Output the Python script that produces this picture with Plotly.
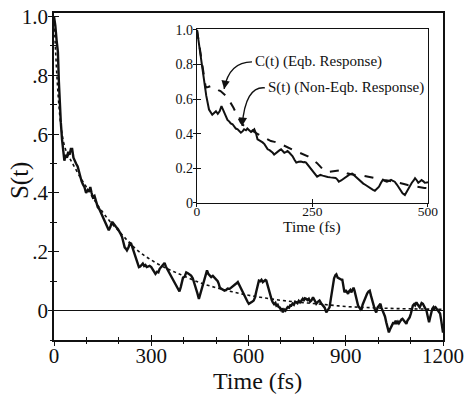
import plotly.graph_objects as go

# ---------------- data ----------------
main_t = [0,4,8,12,15,18,21,25,28,32,36,40,44,48,52,56,60,63,68,73,77,81,85,89,94,99,104,108,112,116,120,125,130,135,140,146,151,156,160,165,169,174,178,181,186,191,197,202,206,210,214,218,222,225,230,234,238,243,248,253,258,262,266,270,274,278,282,286,290,295,300,305,309,313,318,322,326,330,334,338,341,345,350,356,361,366,372,376,380,384,387,391,395,398,403,408,413,418,423,428,434,438,442,447,451,455,459,463,467,472,476,480,485,490,495,500,505,508,511,515,520,526,531,536,542,547,552,557,562,567,572,577,583,588,593,597,601,606,611,616,620,624,628,632,636,640,644,648,652,655,659,662,665,668,672,675,679,683,686,690,693,696,700,703,706,710,714,717,721,725,729,732,736,740,744,747,751,755,759,763,767,770,774,778,782,786,790,794,799,804,809,814,819,824,830,835,840,845,850,854,857,860,864,868,871,875,879,883,887,889,893,896,900,904,907,910,914,917,921,924,927,931,935,938,942,945,948,952,957,961,966,970,974,978,981,984,988,991,994,998,1002,1007,1010,1014,1017,1021,1025,1029,1033,1036,1040,1044,1047,1050,1054,1057,1061,1064,1068,1072,1075,1079,1083,1087,1090,1094,1097,1101,1104,1107,1111,1114,1118,1121,1125,1128,1131,1134,1138,1142,1146,1149,1153,1157,1160,1164,1167,1171,1174,1177,1181,1185,1188,1191,1194,1197,1200]
main_s = [1.00,0.97,0.92,0.88,0.78,0.70,0.64,0.58,0.55,0.51,0.53,0.52,0.54,0.53,0.55,0.55,0.52,0.51,0.50,0.49,0.47,0.455,0.44,0.43,0.42,0.40,0.41,0.405,0.42,0.40,0.385,0.39,0.37,0.352,0.345,0.33,0.32,0.305,0.30,0.285,0.273,0.285,0.30,0.30,0.29,0.285,0.278,0.27,0.26,0.25,0.235,0.215,0.21,0.205,0.215,0.23,0.228,0.21,0.193,0.175,0.16,0.148,0.15,0.155,0.16,0.152,0.155,0.148,0.15,0.152,0.148,0.14,0.13,0.125,0.132,0.13,0.142,0.148,0.155,0.16,0.162,0.15,0.14,0.125,0.115,0.11,0.097,0.09,0.082,0.07,0.065,0.08,0.098,0.112,0.115,0.13,0.127,0.124,0.119,0.11,0.091,0.075,0.06,0.04,0.055,0.07,0.085,0.105,0.12,0.137,0.125,0.12,0.114,0.118,0.112,0.108,0.10,0.092,0.08,0.075,0.072,0.068,0.07,0.075,0.074,0.078,0.082,0.085,0.092,0.097,0.085,0.075,0.062,0.05,0.038,0.03,0.023,0.028,0.03,0.034,0.045,0.065,0.085,0.102,0.10,0.105,0.097,0.10,0.104,0.102,0.085,0.075,0.062,0.05,0.035,0.028,0.022,0.026,0.017,0.02,0.012,0.011,0.003,0.008,-0.006,0.004,0.0,0.006,0.012,0.01,0.018,0.017,0.024,0.02,0.03,0.028,0.025,0.033,0.028,0.034,0.04,0.033,0.042,0.04,0.036,0.04,0.03,0.034,0.045,0.035,0.023,0.03,0.034,0.025,0.017,0.01,-0.006,0.002,0.011,0.04,0.065,0.091,0.11,0.12,0.123,0.112,0.11,0.108,0.105,0.108,0.085,0.062,0.07,0.06,0.057,0.065,0.07,0.062,0.07,0.078,0.068,0.05,0.03,0.017,0.01,0.005,0.0,0.02,0.035,0.045,0.058,0.065,0.068,0.05,0.035,0.023,0.01,0.0,-0.006,0.01,0.018,0.023,0.01,0.0,-0.006,-0.02,-0.04,-0.06,-0.074,-0.065,-0.055,-0.051,-0.04,-0.045,-0.034,-0.045,-0.038,-0.043,-0.035,-0.03,-0.028,-0.035,-0.04,-0.045,-0.035,-0.03,-0.023,-0.01,0.005,0.017,0.022,0.018,0.028,0.02,0.015,0.011,0.02,0.026,0.023,0.015,0.008,0.0,-0.02,-0.04,-0.025,-0.005,0.006,0.012,0.008,0.011,0.005,0.0,-0.006,-0.01,-0.03,-0.05,-0.075]

fit_t = [0,5,10,15,20,25,30,40,50,60,80,100,125,150,175,200,225,250,275,300,325,350,375,400,450,500,550,600,650,700,750,800,850,900,950,1000,1050,1100,1150,1200]
fit_c = [1.0,0.88,0.78,0.70,0.64,0.60,0.57,0.535,0.515,0.495,0.455,0.42,0.375,0.335,0.30,0.27,0.24,0.212,0.19,0.172,0.156,0.142,0.13,0.118,0.095,0.078,0.064,0.052,0.043,0.035,0.029,0.024,0.019,0.014,0.011,0.009,0.007,0.006,0.005,0.004]

inset_t = [0,5,10,15,20,26,30,33,37,41,45,49,53,57,60,66,70,73,77,80,84,88,92,95,99,102,106,109,113,117,121,124,128,131,135,138,142,146,150,153,157,160,164,167,171,175,179,182,186,189,193,196,200,204,207,211,215,220,225,230,233,236,240,243,248,253,257,260,264,267,272,278,283,289,295,300,304,307,312,318,323,329,333,336,340,343,348,354,360,365,371,376,381,385,390,394,398,402,406,411,416,420,424,428,433,438,442,445,450,454,457,461,465,469,472,476,479,483,486,490,493,497,500]
inset_s = [1.0,0.90,0.80,0.71,0.62,0.54,0.52,0.51,0.52,0.53,0.515,0.53,0.56,0.535,0.51,0.48,0.47,0.46,0.455,0.445,0.43,0.426,0.415,0.406,0.415,0.426,0.42,0.43,0.42,0.41,0.418,0.426,0.40,0.368,0.362,0.358,0.35,0.34,0.325,0.31,0.305,0.30,0.29,0.28,0.29,0.30,0.305,0.31,0.30,0.29,0.295,0.30,0.29,0.28,0.27,0.25,0.233,0.238,0.24,0.236,0.237,0.233,0.22,0.21,0.195,0.18,0.165,0.152,0.158,0.162,0.158,0.152,0.15,0.148,0.148,0.145,0.135,0.123,0.13,0.143,0.152,0.162,0.168,0.17,0.16,0.152,0.138,0.123,0.112,0.104,0.092,0.085,0.076,0.071,0.082,0.094,0.115,0.133,0.128,0.123,0.128,0.133,0.128,0.123,0.105,0.085,0.07,0.056,0.046,0.065,0.085,0.10,0.117,0.13,0.143,0.13,0.117,0.125,0.133,0.125,0.117,0.118,0.12]

inset_ct = [0,5,10,15,19,24,30,36,41,46,51,57,62,68,73,79,84,90,95,100,106,111,117,124,131,139,146,153,160,168,175,182,189,197,204,211,218,226,233,240,246,253,260,267,274,280,285,295,304,310,315,320,325,333,340,351,362,372,383,394,405,416,427,441,448,456,463,470,478,485,492,500]
inset_c = [1.0,0.91,0.82,0.73,0.667,0.67,0.676,0.665,0.657,0.652,0.647,0.635,0.62,0.60,0.58,0.55,0.522,0.49,0.464,0.45,0.435,0.43,0.426,0.41,0.397,0.387,0.378,0.368,0.358,0.353,0.349,0.34,0.33,0.32,0.31,0.302,0.295,0.287,0.281,0.27,0.258,0.245,0.23,0.21,0.19,0.183,0.18,0.183,0.187,0.19,0.19,0.18,0.172,0.166,0.162,0.158,0.156,0.15,0.143,0.138,0.133,0.128,0.123,0.117,0.11,0.104,0.10,0.098,0.094,0.09,0.087,0.085]

main_yticks = [0, 0.2, 0.4, 0.6, 0.8, 1.0]
main_ylabels = ["0", ".2", ".4", ".6", ".8", "1.0"]
inset_xticks = [0, 250, 500]
inset_yticks = [0, 0.2, 0.4, 0.6, 0.8, 1.0]
inset_ylabels = ["0", "0.2", "0.4", "0.6", "0.8", "1.0"]

label_c = "C(t) (Eqb. Response)"
label_s = "S(t) (Non-Eqb. Response)"

FONT = "Liberation Serif"
BLACK = "#111111"

fig = go.Figure()
fig.add_trace(go.Scatter(x=main_t, y=main_s, mode="lines", xaxis="x", yaxis="y",
                         line=dict(color=BLACK, width=2.4), hoverinfo="skip"))
fig.add_trace(go.Scatter(x=fit_t, y=fit_c, mode="lines", xaxis="x3", yaxis="y3",
                         line=dict(color=BLACK, width=1.6, dash="dot", shape="spline"), hoverinfo="skip"))
fig.add_trace(go.Scatter(x=inset_t, y=inset_s, mode="lines", xaxis="x2", yaxis="y2",
                         line=dict(color=BLACK, width=2.0), hoverinfo="skip"))
fig.add_trace(go.Scatter(x=inset_ct, y=inset_c, mode="lines", xaxis="x4", yaxis="y4",
                         line=dict(color=BLACK, width=2.0, dash="dash"), hoverinfo="skip"))

ax_common = dict(showgrid=False, automargin=False, color=BLACK, tickcolor=BLACK)

inset_dom_x = [0.3676, 0.9614]
inset_dom_y = [0.419, 0.951]

fig.update_layout(
    width=467, height=394,
    margin=dict(l=54, r=24, t=13, b=54),
    paper_bgcolor="white", plot_bgcolor="white",
    showlegend=False,
    font=dict(family=FONT, color=BLACK),
    xaxis=dict(domain=[0, 1], range=[0, 1200], anchor="y", tickmode="linear", tick0=0, dtick=300,
               ticks="inside", ticklen=5, tickwidth=1.3,
               minor=dict(dtick=100, tick0=0, ticks="inside", ticklen=3, tickwidth=1, tickcolor=BLACK),
               showline=True, linewidth=1.5, linecolor=BLACK, mirror=True, zeroline=False,
               tickfont=dict(size=21, family=FONT), ticklabelstandoff=-4, **ax_common),
    xaxis3=dict(overlaying="x", range=[0, 1200], anchor="y", tickmode="linear", tick0=0, dtick=300,
                ticks="outside", ticklen=5, tickwidth=1.3,
                minor=dict(dtick=100, tick0=0, ticks="outside", ticklen=3, tickwidth=1, tickcolor=BLACK),
                showticklabels=False, showline=False, zeroline=False, **ax_common),
    yaxis=dict(domain=[0, 1], range=[-0.1, 1.012], anchor="x", tickvals=main_yticks, ticktext=main_ylabels,
               ticks="inside", ticklen=5, tickwidth=1.3,
               minor=dict(dtick=0.1, tick0=0, ticks="inside", ticklen=3, tickwidth=1, tickcolor=BLACK),
               showline=True, linewidth=1.5, linecolor=BLACK, mirror=True,
               zeroline=True, zerolinecolor=BLACK, zerolinewidth=1.2,
               tickfont=dict(size=21, family=FONT), **ax_common),
    yaxis3=dict(overlaying="y", range=[-0.1, 1.012], anchor="x", tickvals=main_yticks,
                ticks="outside", ticklen=5, tickwidth=1.3,
                minor=dict(dtick=0.1, tick0=0, ticks="outside", ticklen=3, tickwidth=1, tickcolor=BLACK),
                showticklabels=False, showline=False, zeroline=False, **ax_common),
    xaxis2=dict(domain=inset_dom_x, range=[0, 500], anchor="y2", tickvals=inset_xticks,
                ticks="inside", ticklen=4, tickwidth=1.2,
                showline=True, linewidth=1.4, linecolor=BLACK, mirror=True, zeroline=False,
                tickfont=dict(size=13.5, family=FONT), ticklabelstandoff=-4, **ax_common),
    xaxis4=dict(overlaying="x2", domain=inset_dom_x, range=[0, 500], anchor="y2", tickvals=inset_xticks,
                ticks="outside", ticklen=3, tickwidth=1.2,
                showticklabels=False, showline=False, zeroline=False, **ax_common),
    yaxis2=dict(domain=inset_dom_y, range=[0, 1.005], anchor="x2", tickvals=inset_yticks, ticktext=inset_ylabels,
                ticks="inside", ticklen=4, tickwidth=1.2,
                showline=True, linewidth=1.4, linecolor=BLACK, mirror=True, zeroline=False,
                tickfont=dict(size=14, family=FONT), ticklabelstandoff=0, **ax_common),
    yaxis4=dict(overlaying="y2", domain=inset_dom_y, range=[0, 1.005], anchor="x2", tickvals=inset_yticks,
                ticks="outside", ticklen=3, tickwidth=1.2,
                showticklabels=False, showline=False, zeroline=False, **ax_common),
)

# axis titles
fig.add_annotation(text="Time (fs)", xref="paper", yref="paper", x=0.522, y=-0.124,
                   xanchor="center", yanchor="middle", showarrow=False,
                   font=dict(size=24, family=FONT, color=BLACK))
fig.add_annotation(text="S(t)", xref="paper", yref="paper", x=-0.0874, y=0.489,
                   xanchor="center", yanchor="middle", showarrow=False, textangle=-90,
                   font=dict(size=25, family=FONT, color=BLACK))
fig.add_annotation(text="Time (fs)", xref="paper", yref="paper", x=0.663, y=0.3445,
                   xanchor="center", yanchor="middle", showarrow=False, borderpad=0,
                   font=dict(size=15.5, family=FONT, color=BLACK))

# curve labels with curved arrows (in inset data coordinates)
fig.add_annotation(text=label_c, xref="x2", yref="y2", x=121, y=0.815, xanchor="left", yanchor="middle",
                   showarrow=False, font=dict(size=15, family=FONT, color=BLACK))
fig.add_annotation(text=label_s, xref="x2", yref="y2", x=150, y=0.668, xanchor="left", yanchor="middle",
                   showarrow=False, font=dict(size=15, family=FONT, color=BLACK))
fig.add_shape(type="path", xref="x2", yref="y2", path="M 119,0.815 Q 69.6,0.815 58.7,0.659",
              line=dict(color=BLACK, width=1.4))
fig.add_shape(type="path", xref="x2", yref="y2", path="M 147,0.665 Q 104.3,0.676 97.8,0.445",
              line=dict(color=BLACK, width=1.4))
fig.add_annotation(text="", xref="x2", yref="y2", x=58.7, y=0.659, axref="x2", ayref="y2",
                   ax=60.4, ay=0.684, showarrow=True, arrowhead=2, arrowsize=1.2, arrowwidth=1.4,
                   arrowcolor=BLACK)
fig.add_annotation(text="", xref="x2", yref="y2", x=97.8, y=0.445, axref="x2", ayref="y2",
                   ax=98.7, ay=0.474, showarrow=True, arrowhead=2, arrowsize=1.2, arrowwidth=1.4,
                   arrowcolor=BLACK)

fig.write_html("out.html")
